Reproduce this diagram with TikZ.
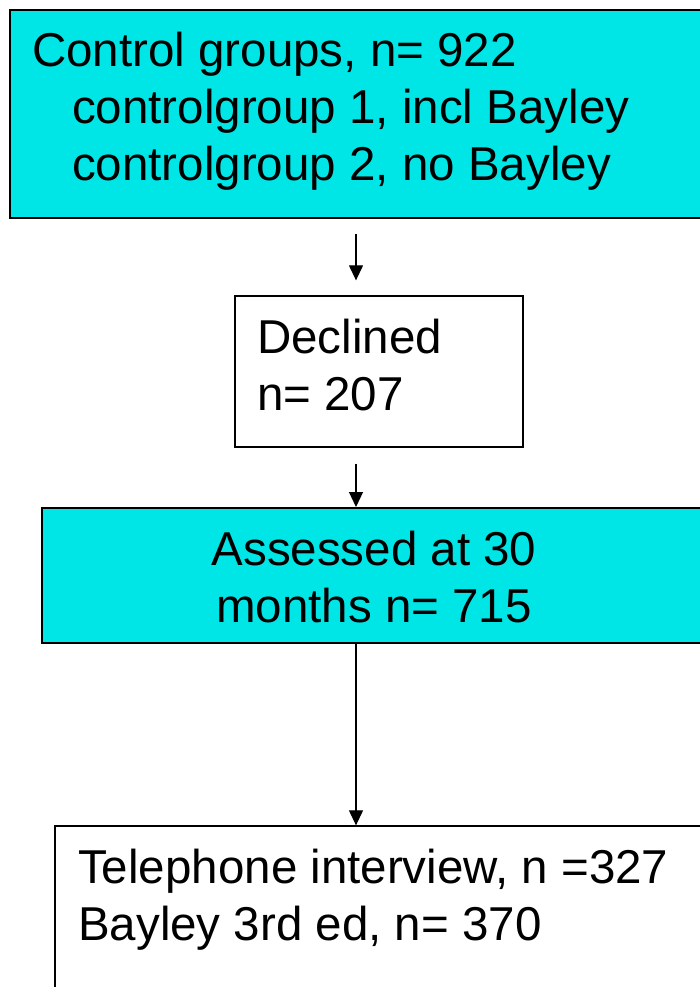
\documentclass[tikz,border=0pt]{standalone}
\usepackage{fontspec}
\setmainfont{Liberation Sans}
\usetikzlibrary{arrows.meta}
\definecolor{boxcyan}{RGB}{0,229,229}
\begin{document}
\begin{tikzpicture}[x=1pt,y=-1pt,
  cyanbox/.style={draw=black, line width=2pt, fill=boxcyan, inner sep=0pt},
  whitebox/.style={draw=black, line width=1.3pt, fill=white, inner sep=0pt},
  boxtext/.style={font=\fontsize{47.5pt}{57pt}\selectfont, inner sep=0pt},
  flow/.style={draw=black, line width=1.2pt, -{Triangle[width=14pt,length=15pt]}}
]
\clip (0,0) rectangle (700,987);
\fill[white] (0,0) rectangle (700,987);

% boxes
\node[cyanbox, minimum width=710pt, minimum height=208pt] (groups) at (365,114) {};
\node[whitebox, minimum width=288pt, minimum height=151pt] (declined) at (379,371.5) {};
\node[cyanbox, minimum width=678pt, minimum height=135pt] (assessed) at (381,575.5) {};
\node[whitebox, minimum width=665pt, minimum height=180pt] (outcome) at (387.5,916) {};

% box texts (the base anchor sits on the last line's baseline)
\node[boxtext, align=left, anchor=base west] (groupstext) at (32,181)
  {Control groups, n= 922\\\hspace*{40pt}controlgroup 1, incl Bayley\\\hspace*{40pt}controlgroup 2, no Bayley};
\node[boxtext, align=left, anchor=base west] (declinedtext) at (257,410)
  {Declined\\n= 207};
\node[boxtext, align=center, anchor=base] (assessedtext) at (374,622)
  {Assessed at 30\\months n= 715};
\node[boxtext, align=left, anchor=base west] (outcometext) at (78,940)
  {Telephone interview, n =327\\Bayley 3rd ed, n= 370};

% connectors along one vertical axis
\coordinate (axis) at (356,0);
\draw[flow, shorten <=15pt, shorten >=15pt] (groups.south -| axis) -- (declined.north -| axis);
\draw[flow, shorten <=16pt] (declined.south -| axis) -- (assessed.north -| axis);
\draw[flow] (assessed.south -| axis) -- (outcome.north -| axis);
\end{tikzpicture}
\end{document}
